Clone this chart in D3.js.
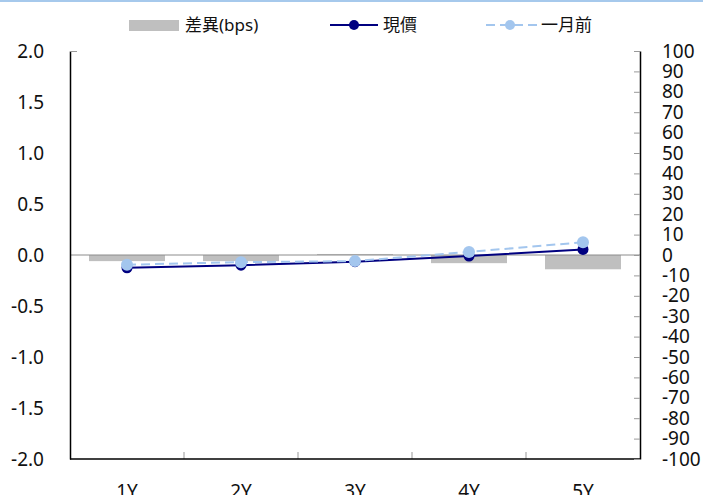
<!DOCTYPE html>
<html>
<head>
<meta charset="utf-8">
<script src="https://cdn.jsdelivr.net/npm/d3@7"></script>
<style>
body{margin:0;background:#fff;}
svg{display:block;font-family:"Noto Sans","Noto Sans CJK TC",sans-serif;}
</style>
</head>
<body>
<div id="chart"></div>
<script>
// data
var tenors = ["1Y","2Y","3Y","4Y","5Y"];
var current = [-0.125, -0.10, -0.065, -0.01, 0.055];   // 現價
var monthAgo = [-0.095, -0.07, -0.06, 0.03, 0.125];    // 一月前
var diffBps = [-3, -3, 0.5, -4, -7];                   // 差異(bps)
var leftTicks = [-2, -1.5, -1, -0.5, 0, 0.5, 1, 1.5, 2];
var rightTicks = d3.range(-100, 101, 10);

var W = 703, H = 495;
var margin = {top:51, right:63, bottom:36, left:70},
    width = W - margin.left - margin.right,
    height = H - margin.top - margin.bottom;

var navy = "#000080", lightBlue = "#a3c6ee", barGray = "#bfbfbf";

var svg = d3.select("#chart").append("svg")
    .attr("width", W).attr("height", H);

// light blue rule at the very top
svg.append("rect").attr("x",0).attr("y",0).attr("width",W).attr("height",2).attr("fill","#a6c9ec");

var g = svg.append("g").attr("transform","translate(" + margin.left + "," + margin.top + ")");

var x = d3.scaleBand().domain(tenors).range([0,width]).paddingInner(1/3).paddingOuter(1/6);
var xb = d3.scaleBand().domain(tenors).range([0,width]);
var y = d3.scaleLinear().domain([-2,2]).range([height,0]);
var y2 = d3.scaleLinear().domain([-100,100]).range([height,0]);

// bars (right axis)
g.selectAll(".bar").data(diffBps).enter().append("rect")
    .attr("x", function(d,i){ return x(tenors[i]); })
    .attr("width", x.bandwidth())
    .attr("y", function(d){ return y2(Math.max(0,d)); })
    .attr("height", function(d){ return Math.abs(y2(d) - y2(0)); })
    .attr("fill", barGray);

// zero line
g.append("line").attr("x1",0).attr("x2",width).attr("y1",y(0)).attr("y2",y(0))
    .attr("stroke","#8c8c8c").attr("stroke-width",1);

// x axis: boundary ticks pointing up
var xAxis = g.append("g").attr("transform","translate(0," + height + ")");
xAxis.selectAll("line.b").data(tenors.slice(1)).enter().append("line")
    .attr("x1", function(d){ return xb(d); }).attr("x2", function(d){ return xb(d); })
    .attr("y1",0).attr("y2",-7).attr("stroke","#999").attr("stroke-width",1);
xAxis.append("line").attr("x1",0).attr("x2",width).attr("y1",0).attr("y2",0)
    .attr("stroke","#000").attr("stroke-width",1.5);
xAxis.selectAll("text").data(tenors).enter().append("text")
    .attr("x", function(d){ return xb(d) + xb.bandwidth()/2; })
    .attr("y", 39).attr("text-anchor","middle")
    .attr("font-size","19px").attr("fill","#111").text(function(d){ return d; });

// left axis
var yAxis = g.append("g").call(d3.axisLeft(y).tickValues(leftTicks).tickFormat(d3.format(".1f")).tickSize(0).tickPadding(26));
yAxis.attr("font-family", null).attr("font-size", null);
yAxis.select(".domain").attr("stroke","#000").attr("stroke-width",1.5);
yAxis.selectAll("text").attr("font-size","19px").attr("fill","#111")
    .text(function(d){ return d3.format(".1f")(d).replace("−","-"); });
yAxis.selectAll(".tick").filter(function(d){ return d === 2; }).select("line")
    .attr("x2",7).attr("stroke","#999");

// right axis, ticks inward
var rAxis = g.append("g").attr("transform","translate(" + width + ",0)")
    .call(d3.axisRight(y2).tickValues(rightTicks).tickSize(0).tickPadding(22));
rAxis.attr("font-family", null).attr("font-size", null);
rAxis.select(".domain").attr("stroke","#000").attr("stroke-width",1.5);
rAxis.selectAll(".tick line").attr("x2",-6).attr("stroke","#999");
rAxis.selectAll("text").attr("font-size","19px").attr("fill","#111")
    .text(function(d){ return String(d); });

var line = d3.line()
    .x(function(d,i){ return xb(tenors[i]) + xb.bandwidth()/2; })
    .y(function(d){ return y(d); });

// 現價
g.append("path").datum(current).attr("d", line)
    .attr("fill","none").attr("stroke",navy).attr("stroke-width",2);
g.selectAll(".cur").data(current).enter().append("circle")
    .attr("cx", function(d,i){ return xb(tenors[i]) + xb.bandwidth()/2; })
    .attr("cy", function(d){ return y(d); })
    .attr("r",5.5).attr("fill",navy);

// 一月前
g.append("path").datum(monthAgo).attr("d", line)
    .attr("fill","none").attr("stroke",lightBlue).attr("stroke-width",2)
    .attr("stroke-dasharray","9,5");
g.selectAll(".ago").data(monthAgo).enter().append("circle")
    .attr("cx", function(d,i){ return xb(tenors[i]) + xb.bandwidth()/2; })
    .attr("cy", function(d){ return y(d); })
    .attr("r",6).attr("fill",lightBlue);

// legend
var lg = svg.append("g").attr("font-size","17px").attr("fill","#111");
lg.append("rect").attr("x",129).attr("y",20).attr("width",50).attr("height",11).attr("fill",barGray);
lg.append("text").attr("x",185).attr("y",25).attr("dy","0.35em").text("差異(bps)");
lg.append("line").attr("x1",330).attr("x2",378).attr("y1",25).attr("y2",25).attr("stroke",navy).attr("stroke-width",2);
lg.append("circle").attr("cx",354).attr("cy",25).attr("r",5).attr("fill",navy);
lg.append("text").attr("x",383).attr("y",25).attr("dy","0.35em").text("現價");
lg.append("line").attr("x1",486).attr("x2",538).attr("y1",25).attr("y2",25).attr("stroke",lightBlue).attr("stroke-width",2).attr("stroke-dasharray","9,5");
lg.append("circle").attr("cx",510).attr("cy",25).attr("r",5).attr("fill",lightBlue);
lg.append("text").attr("x",541).attr("y",25).attr("dy","0.35em").text("一月前");
</script>
</body>
</html>
